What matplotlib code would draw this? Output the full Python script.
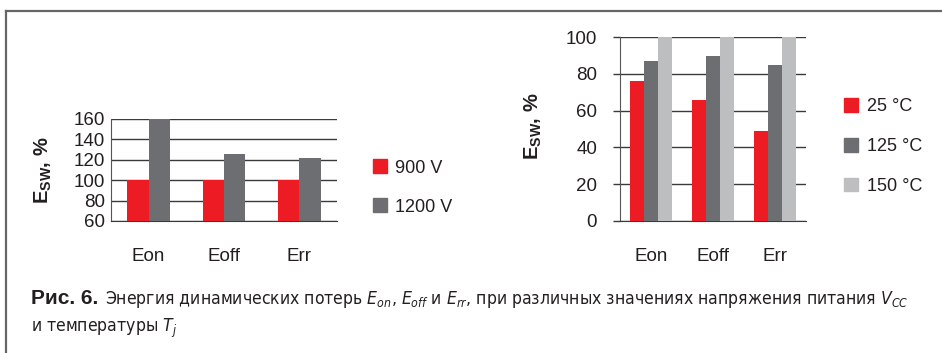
import matplotlib
matplotlib.use("Agg")
import matplotlib.pyplot as plt
from matplotlib.lines import Line2D
from matplotlib.patches import Patch
from matplotlib.font_manager import FontProperties

W, H = 942, 353

categories = ["Eon", "Eoff", "Err"]

# switching energy vs supply voltage, % of the 900 V value
voltage_labels = ["900 V", "1200 V"]
e_900v = [100, 100, 100]
e_1200v = [160, 126, 122]
volt_ticks = [60, 80, 100, 120, 140, 160]

# switching energy vs junction temperature, % of the 150 °C value
temp_labels = ["25 °C", "125 °C", "150 °C"]
e_25c = [76, 66, 49]
e_125c = [87, 90, 85]
e_150c = [100, 100, 100]
temp_ticks = [0, 20, 40, 60, 80, 100]

RED = "#ed1c24"
DARK = "#6d6e71"
LIGHT = "#bcbec0"
GRID = "#3a3a3a"
TXT = "#231f20"

plt.rcParams["font.family"] = ["Liberation Sans", "DejaVu Sans"]
plt.rcParams["mathtext.fontset"] = "custom"
plt.rcParams["mathtext.rm"] = "DejaVu Sans:stretch=condensed"
plt.rcParams["mathtext.it"] = "DejaVu Sans:italic:stretch=condensed"
plt.rcParams["mathtext.bf"] = "Liberation Sans:bold"

cap_font = FontProperties(family="DejaVu Sans", stretch="condensed", size=12.6)

fig = plt.figure(figsize=(W / 100, H / 100), dpi=100)


def px_axes(x0, y0, x1, y1):
    return fig.add_axes([x0 / W, 1 - y1 / H, (x1 - x0) / W, (y1 - y0) / H])


def style(ax, ticks, tick_len, pad):
    ax.set_ylim(ticks[0], ticks[-1])
    ax.set_yticks(ticks)
    ax.set_xlim(-0.5, 2.5)
    ax.set_xticks(range(len(categories)), categories)
    for s in ["top", "right"]:
        ax.spines[s].set_visible(False)
    ax.spines["bottom"].set_color(GRID)
    ax.spines["left"].set_color("#555555")
    ax.yaxis.grid(True, color=GRID, lw=1.0)
    ax.set_axisbelow(True)
    ax.tick_params(axis="x", length=0, pad=19.5, labelsize=13.5, labelcolor=TXT)
    ax.tick_params(axis="y", length=tick_len, width=1.0, color=GRID, pad=pad,
                   labelsize=13.5, labelcolor=TXT)


# left chart: supply voltage
ax1 = px_axes(111, 119, 337, 221)
w1 = 0.285
x = range(len(categories))
ax1.bar([i - w1 / 2 for i in x], e_900v, w1, color=RED, zorder=3)
ax1.bar([i + w1 / 2 for i in x], e_1200v, w1, color=DARK, zorder=3)
style(ax1, volt_ticks, 0, 4.3)
fig.text(43 / W, 1 - 170 / H, r"$\mathbf{E_{SW}}$, %", rotation=90,
         ha="center", va="center", fontsize=14.5, fontweight="bold", color=TXT)
fig.legend([Patch(color=RED), Patch(color=DARK)], voltage_labels,
           loc="center left", bbox_to_anchor=(373 / W, 1 - 187.5 / H),
           frameon=False, borderpad=0, borderaxespad=0, handlelength=0.8,
           handleheight=0.8, handletextpad=0.4, labelspacing=1.2,
           fontsize=13, labelcolor=TXT)

# right chart: junction temperature
ax2 = px_axes(620, 37.3, 806, 220.7)
w2 = 0.226
ax2.bar([i - w2 for i in x], e_25c, w2, color=RED, zorder=3)
ax2.bar(list(x), e_125c, w2, color=DARK, zorder=3)
ax2.bar([i + w2 for i in x], e_150c, w2, color=LIGHT, zorder=3)
style(ax2, temp_ticks, 5, 11.5)
fig.text(533 / W, 1 - 126 / H, r"$\mathbf{E_{SW}}$, %", rotation=90,
         ha="center", va="center", fontsize=14.5, fontweight="bold", color=TXT)
fig.legend([Patch(color=RED), Patch(color=DARK), Patch(color=LIGHT)], temp_labels,
           loc="center left", bbox_to_anchor=(844 / W, 1 - 146.5 / H),
           frameon=False, borderpad=0, borderaxespad=0, handlelength=0.8,
           handleheight=0.8, handletextpad=0.5, labelspacing=1.25,
           fontsize=13, labelcolor=TXT)

# frame around the figure block
fig.add_artist(Line2D([6 / W, 6 / W], [0, 1 - 11 / H], color="#666666", lw=1.6))
fig.add_artist(Line2D([6 / W, 1], [1 - 11 / H, 1 - 11 / H], color="#666666", lw=1.6))

# caption: bold figure number, then the condensed description
renderer = fig.canvas.get_renderer()
t = fig.text(31 / W, 1 - 304 / H, "Рис. 6.", fontsize=15, fontweight="bold",
             color=TXT, va="baseline")
x1 = t.get_window_extent(renderer).x1
fig.text((x1 + 7) / W, 1 - 304 / H,
         r"Энергия динамических потерь $E_{on}$, $E_{off}$ и $E_{rr}$, "
         r"при различных значениях напряжения питания $V_{CC}$",
         fontproperties=cap_font, color=TXT, va="baseline")
fig.text(31 / W, 1 - 332 / H, r"и температуры $T_j$",
         fontproperties=cap_font, color=TXT, va="baseline")

fig.savefig("out.png", dpi=100)
